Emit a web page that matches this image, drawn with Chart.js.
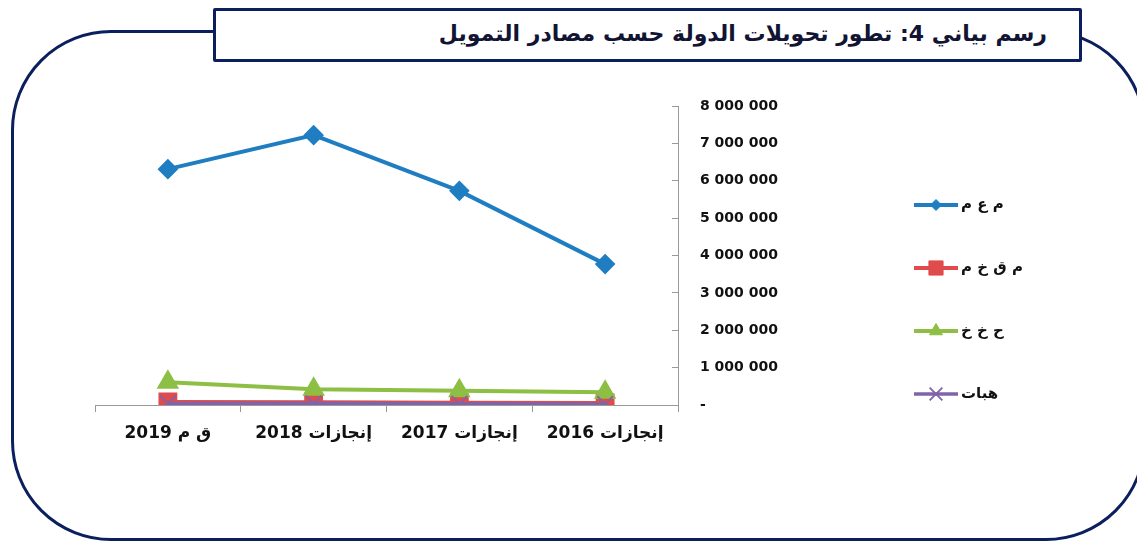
<!DOCTYPE html>
<html>
<head>
<meta charset="utf-8">
<script src="https://cdn.jsdelivr.net/npm/chart.js@4.4.0/dist/chart.umd.min.js"></script>
<style>
  html, body { margin: 0; padding: 0; width: 1137px; height: 542px; overflow: hidden; background: #fff; }
  #frame {
    position: absolute; left: 11px; top: 30px; width: 1135px; height: 511px;
    box-sizing: border-box; border: 3px solid #0b1f5e; border-radius: 100px;
  }
  #title {
    position: absolute; left: 213px; top: 8px; width: 869px; height: 54px;
    box-sizing: border-box; border: 3px solid #0b1f5e; border-radius: 2px; background: #fff;
    font: bold 22px "DejaVu Sans", sans-serif; color: #111433;
    direction: rtl; text-align: right; padding-right: 32px; line-height: 46px;
  }
  #wrap { position: absolute; left: 0; top: 0; width: 1137px; height: 542px; }
</style>
</head>
<body>
<div id="frame"></div>
<div id="title">رسم بياني 4: تطور تحويلات الدولة حسب مصادر التمويل</div>
<div id="wrap"><canvas id="chart"></canvas></div>
<script>
// categories (x axis is drawn reversed, 2016 on the right)
const years = ['إنجازات 2016', 'إنجازات 2017', 'إنجازات 2018', 'ق م 2019'];

// series
const seriesNames = ['م ع م', 'م ق خ م', 'ح خ خ', 'هبات'];
const mam = [3770000, 5730000, 7220000, 6310000];
const mqkm = [55000, 60000, 75000, 80000];
const hkk = [340000, 380000, 420000, 610000];
const hibat = [30000, 35000, 45000, 40000];

// y axis
const yMax = 8000000;
const yStep = 1000000;

document.addEventListener('DOMContentLoaded', function () {
    const ctx = document.getElementById('chart').getContext('2d');

    function fmt(v) {
        if (v === 0) return '-';
        return String(v).replace(/\B(?=(\d{3})+(?!\d))/g, ' ');
    }

    // legend drawn on the right: line + marker, then the label
    const sideLegend = {
        id: 'sideLegend',
        afterDraw(chart) {
            const c = chart.ctx;
            const rows = [205, 268, 331, 394];
            chart.data.datasets.forEach(function (ds, i) {
                const y = rows[i];
                c.save();
                c.strokeStyle = ds.borderColor;
                c.lineWidth = ds.borderWidth;
                c.beginPath();
                c.moveTo(914, y);
                c.lineTo(958, y);
                c.stroke();
                c.fillStyle = ds.backgroundColor;
                c.strokeStyle = ds.borderColor;
                c.lineWidth = ds.pointBorderWidth || 1;
                Chart.helpers.drawPoint(c, {
                    pointStyle: ds.pointStyle,
                    radius: ds.legendRadius,
                    borderWidth: c.lineWidth,
                    rotation: 0
                }, 936, y);
                c.fillStyle = '#111';
                c.font = 'bold 15px "DejaVu Sans", sans-serif';
                c.textAlign = 'left';
                c.textBaseline = 'middle';
                c.fillText(ds.label, 961, y);
                c.restore();
            });
        }
    };

    new Chart(ctx, {
        type: 'line',
        data: {
            labels: years,
            datasets: [
                {
                    label: seriesNames[0], data: mam, order: 0,
                    borderColor: '#1f7ec1', backgroundColor: '#1f7ec1', borderWidth: 4,
                    pointStyle: 'rectRot', pointRadius: 7.5, legendRadius: 5.5
                },
                {
                    label: seriesNames[1], data: mqkm, order: 3,
                    borderColor: '#e04b4b', backgroundColor: '#e04b4b', borderWidth: 4,
                    pointStyle: 'rect', pointRadius: 10.5, legendRadius: 10
                },
                {
                    label: seriesNames[2], data: hkk, order: 2,
                    borderColor: '#8dbf45', backgroundColor: '#8dbf45', borderWidth: 4,
                    pointStyle: 'triangle', pointRadius: 9, legendRadius: 7.5
                },
                {
                    label: seriesNames[3], data: hibat, order: 1,
                    borderColor: '#8063a8', backgroundColor: '#8063a8', borderWidth: 3.5,
                    pointStyle: 'crossRot', pointRadius: 11, pointBorderWidth: 1.8, legendRadius: 9
                }
            ]
        },
        options: {
            responsive: true,
            maintainAspectRatio: false,
            animation: false,
            layout: { padding: { left: 95, top: 106, right: 319, bottom: 97 } },
            elements: { line: { tension: 0 } },
            scales: {
                x: {
                    reverse: true,
                    offset: true,
                    grid: { offset: true, drawOnChartArea: false, drawTicks: true, tickLength: 7, color: '#999' },
                    border: { color: '#999', width: 1 },
                    ticks: {
                        color: '#111', padding: 11, maxRotation: 0,
                        font: { family: '"DejaVu Sans", sans-serif', size: 17, weight: 'bold' }
                    },
                    afterFit: function (scale) { scale.height = 40; }
                },
                y: {
                    position: 'right',
                    min: 0, max: yMax,
                    grid: { drawOnChartArea: false, drawTicks: true, tickLength: -6, color: '#999' },
                    border: { color: '#999', width: 1 },
                    ticks: {
                        stepSize: yStep, padding: 28, color: '#111',
                        font: { family: '"DejaVu Sans", sans-serif', size: 14, weight: 'bold' },
                        callback: function (v) { return fmt(v); }
                    },
                    afterFit: function (scale) { scale.width = 140; }
                }
            },
            plugins: {
                legend: { display: false },
                tooltip: { enabled: false }
            }
        },
        plugins: [sideLegend]
    });
});
</script>
</body>
</html>
